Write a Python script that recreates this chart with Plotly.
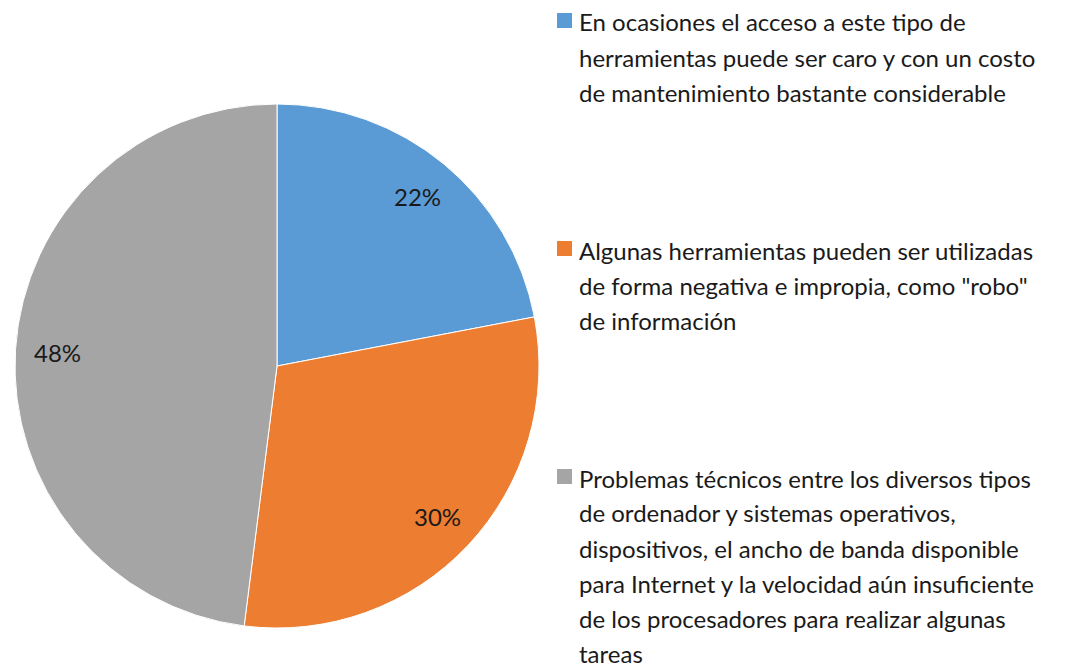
import math
import plotly.graph_objects as go

# ---- data ----
categories = [
    "En ocasiones el acceso a este tipo de<br>herramientas puede ser caro y con un costo<br>de mantenimiento bastante considerable",
    "Algunas herramientas pueden ser utilizadas<br>de forma negativa e impropia, como \"robo\"<br>de información",
    "Problemas técnicos entre los diversos tipos<br>de ordenador y sistemas operativos,<br>dispositivos, el ancho de banda disponible<br>para Internet y la velocidad aún insuficiente<br>de los procesadores para realizar algunas<br>tareas",
]
values = [22, 30, 48]
colors = ["#5B9BD5", "#ED7D31", "#A5A5A5"]

# ---- layout constants (page pixels) ----
W, H = 1073, 663
OFF = 8  # default page body margin
FW, FH = W - OFF, H - OFF
cx, cy, R = 277, 366, 262
label_r = 220
FONT = "Lato"
FS = 24
TXT = "#1a1a1a"


def px(x):
    return (x - OFF) / FW


def py(y):
    return 1 - (y - OFF) / FH


fig = go.Figure(
    go.Pie(
        labels=[c.replace("<br>", " ") for c in categories],
        values=values,
        marker=dict(colors=colors, line=dict(color="white", width=1)),
        sort=False,
        direction="clockwise",
        rotation=0,
        textinfo="none",
        hoverinfo="label+percent",
        showlegend=False,
        domain=dict(x=[px(cx - R), px(cx + R)], y=[py(cy + R), py(cy - R)]),
    )
)

annotations = []
shapes = []

# percentage labels at slice mid-angles
total = sum(values)
cum = 0
for v in values:
    mid = (cum + v / 2) / total * 2 * math.pi
    cum += v
    lx = cx + label_r * math.sin(mid)
    ly = cy - label_r * math.cos(mid)
    annotations.append(dict(
        x=px(lx), y=py(ly), xref="paper", yref="paper",
        text=f"{round(v / total * 100)}%", showarrow=False,
        xanchor="center", yanchor="middle",
        font=dict(family=FONT, size=FS, color=TXT),
    ))

# legend
item_top0 = 13
item_gap = 228
line_h = 35
sq = 15
sq_x = 557
txt_x = 577
for i, (cat, col) in enumerate(zip(categories, colors)):
    top = item_top0 + i * item_gap
    shapes.append(dict(
        type="rect", xref="paper", yref="paper",
        x0=px(sq_x), x1=px(sq_x + sq), y0=py(top), y1=py(top + sq),
        fillcolor=col, line=dict(width=0),
    ))
    for j, line in enumerate(cat.split("<br>")):
        center = top + 9 + j * line_h
        annotations.append(dict(
            x=px(txt_x), y=py(center), xref="paper", yref="paper",
            text=line, showarrow=False, xanchor="left", yanchor="middle",
            font=dict(family=FONT, size=FS, color=TXT),
        ))

fig.update_layout(
    width=FW, height=FH,
    margin=dict(l=0, r=0, t=0, b=0),
    paper_bgcolor="white", plot_bgcolor="white",
    annotations=annotations, shapes=shapes,
    font=dict(family=FONT),
)

fig.write_html("out.html")
